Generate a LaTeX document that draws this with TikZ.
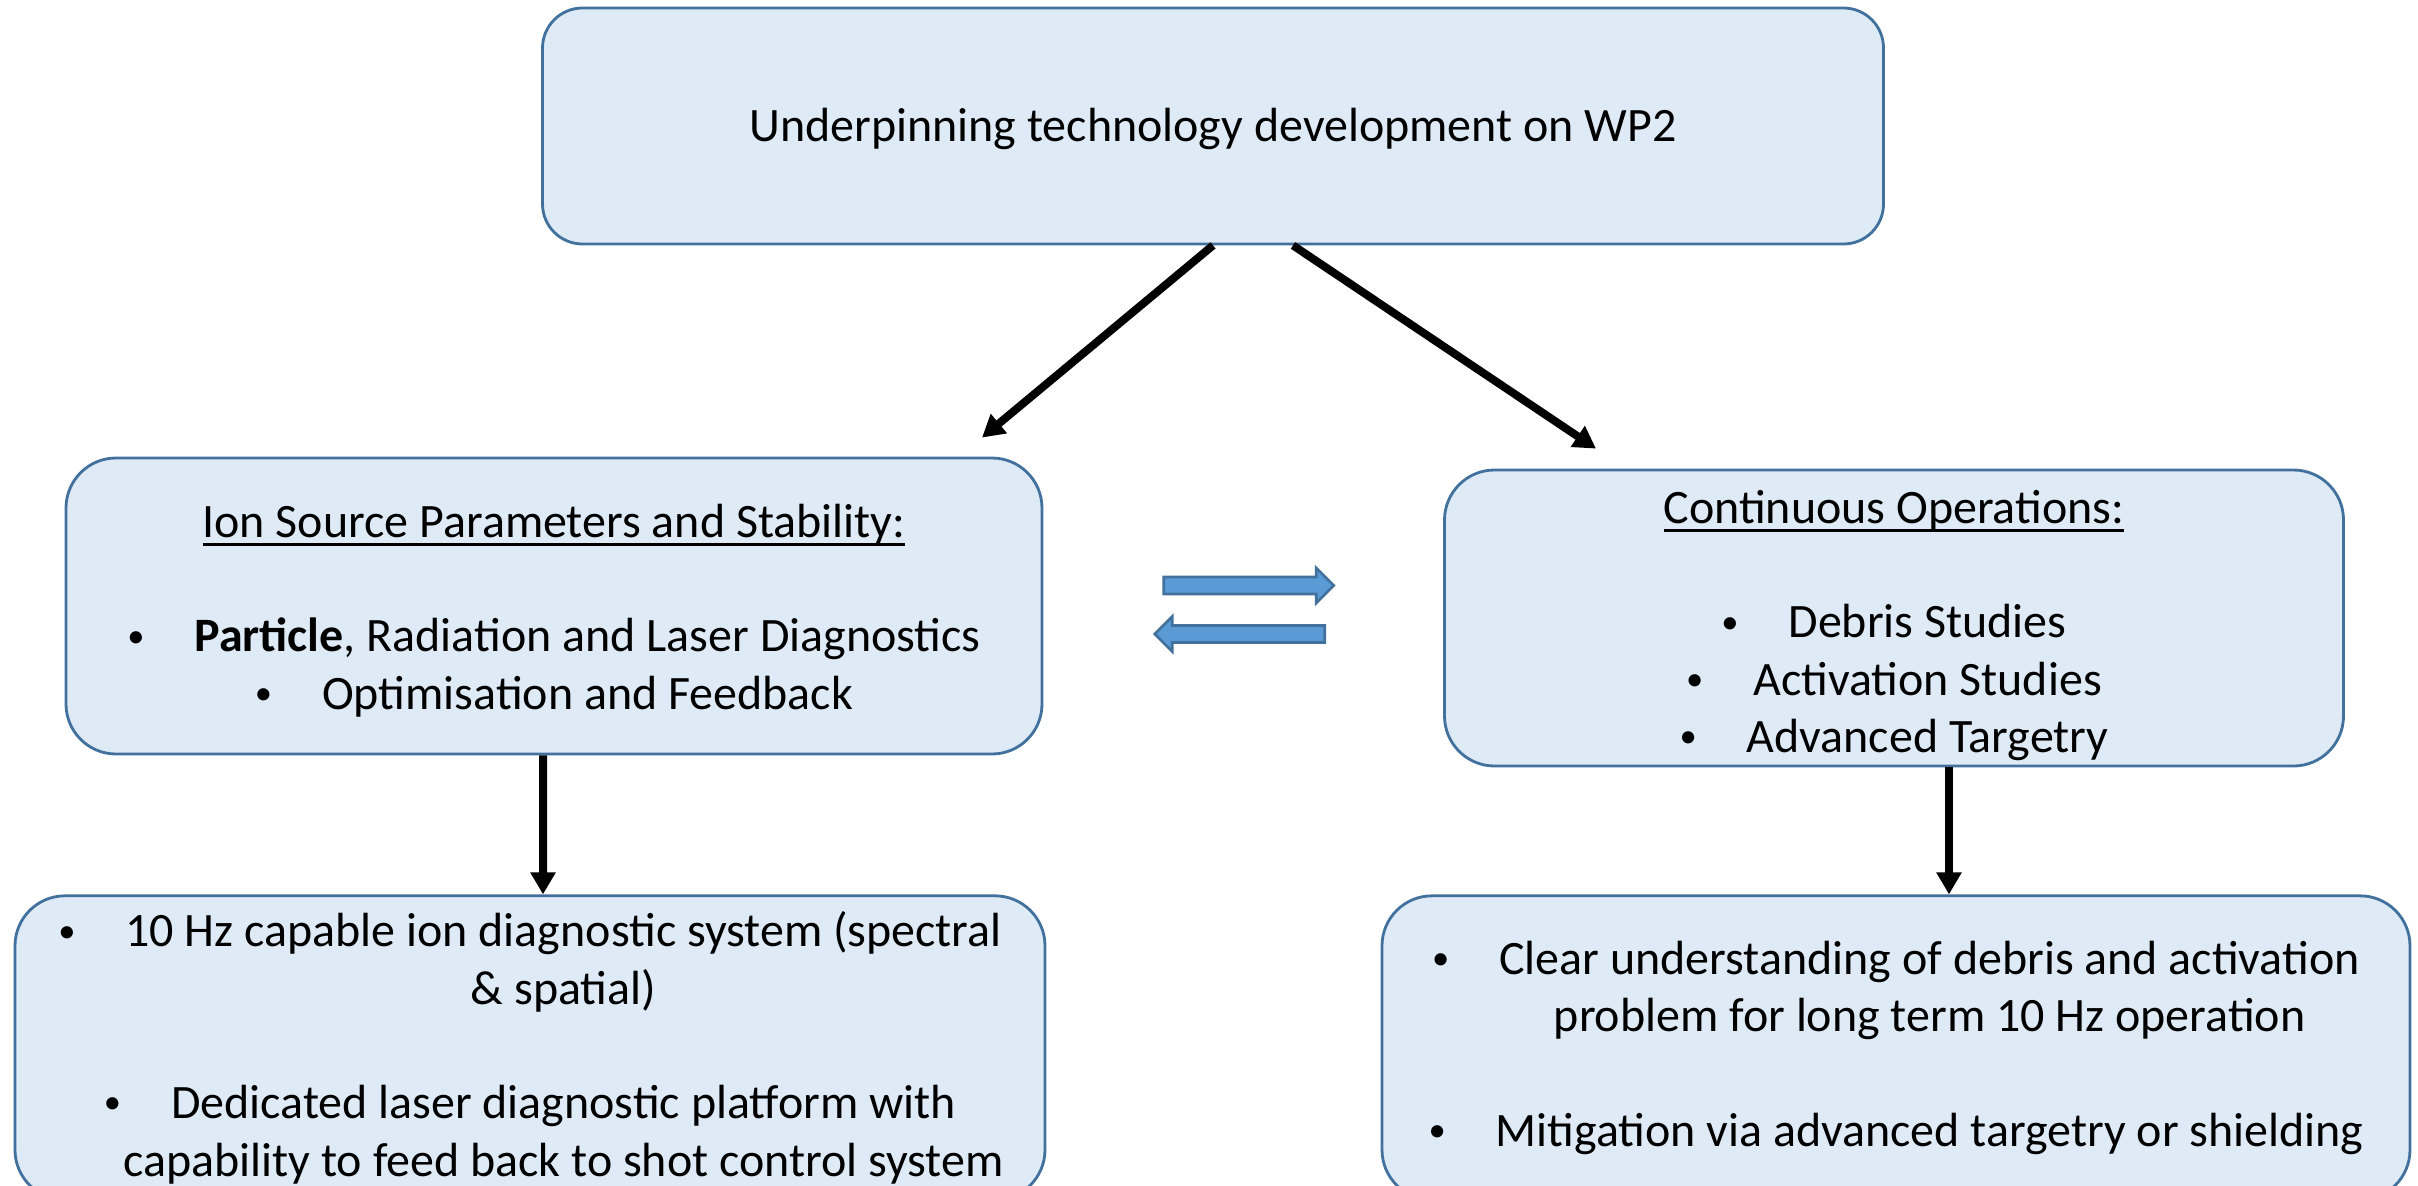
\documentclass[tikz,border=0pt]{standalone}
\usepackage{fontspec}
\setmainfont{Carlito}
\usepackage{xcolor}
\usepackage{tikz}
\usetikzlibrary{shapes.arrows, arrows.meta, positioning, calc}

\definecolor{boxfill}{HTML}{DEEBF7}
\definecolor{boxline}{HTML}{41719C}
\definecolor{arrowfill}{HTML}{5B9BD5}

\newcommand{\bul}{\makebox[1.4em][l]{\raisebox{0.1em}{\scalebox{0.72}{\textbullet}}}}
\newcommand{\contline}{\hphantom{\bul}}
\newcommand{\padtop}[2]{\raisebox{0pt}[\dimexpr\height+#1\relax]{#2}}
\newcommand{\headline}[1]{\setbox0=\hbox{#1}\rlap{\rule[-2.4pt]{\wd0}{0.9pt}}\box0}

\begin{document}
\begin{tikzpicture}[
        font=\fontsize{13.65}{16.3}\selectfont,
        box/.style={rectangle, rounded corners=0.5cm, draw=boxline, line width=0.8pt, fill=boxfill, align=center, inner sep=0pt},
        flow/.style={-{Triangle[length=2.2mm, width=2.4mm]}, line width=0.8mm},
        exchange/.style={single arrow, draw=boxline, line width=0.75pt, fill=arrowfill, inner xsep=0pt, inner ysep=0.72mm, minimum height=1.70cm, single arrow head extend=0.9mm, single arrow tip angle=90}
    ]
        \useasboundingbox (0,0) rectangle (24.18,-11.86);

        % Top level
        \node[box, minimum width=13.41cm, minimum height=2.36cm, rounded corners=0.4cm] (wp) at (12.13,-1.26) {\padtop{0.6mm}{Underpinning technology development on WP2}};

        % Work areas
        \node[box, minimum width=9.76cm, minimum height=2.96cm] (ion) at (5.54,-6.06) {\padtop{0.9mm}{\headline{Ion Source Parameters and Stability:}}\\[16.3pt]
            \bul\textbf{Particle}, Radiation and Laser Diagnostics\\
            \bul Optimisation and Feedback};
        \node[box, minimum width=8.99cm, minimum height=2.96cm] (cont) at (18.94,-6.18) {\padtop{1.5mm}{\headline{Continuous Operations:}}\\[16.3pt]
            \bul Debris Studies\\
            \bul Activation Studies\\
            \bul Advanced Targetry};

        % Exchange between the two areas
        \node[exchange] (fwd) at (12.445,-5.855) {};
        \node[exchange, shape border rotate=180] (back) at (12.44,-6.34) {};

        % Deliverables
        \node[box, minimum width=10.30cm, minimum height=3.04cm, below=1.39cm of ion, xshift=-2.4mm] (diag) {\bul 10 Hz capable ion diagnostic system (spectral\\
            \contline\& spatial)\\[16.3pt]
            \bul Dedicated laser diagnostic platform with\\
            \contline capability to feed back to shot control system};
        \node[box, minimum width=10.28cm, minimum height=3.04cm, below=1.27cm of cont, xshift=0.2mm] (mitig) {\bul Clear understanding of debris and activation\\
            \contline problem for long term 10 Hz operation\\[16.3pt]
            \bul Mitigation via advanced targetry or shielding};

        % Connections
        \draw[flow] (wp.south) -- ($(ion.north)+(4.28,0.19)$);
        \draw[flow] ([xshift=8mm]wp.south) -- ($(cont.north)+(-2.98,0.2)$);
        \draw[flow] ([xshift=-1.1mm]ion.south) -- ([xshift=1.3mm]diag.north);
        \draw[flow] ([xshift=5.5mm]cont.south) -- ([xshift=5.3mm]mitig.north);

    \end{tikzpicture}
\end{document}
